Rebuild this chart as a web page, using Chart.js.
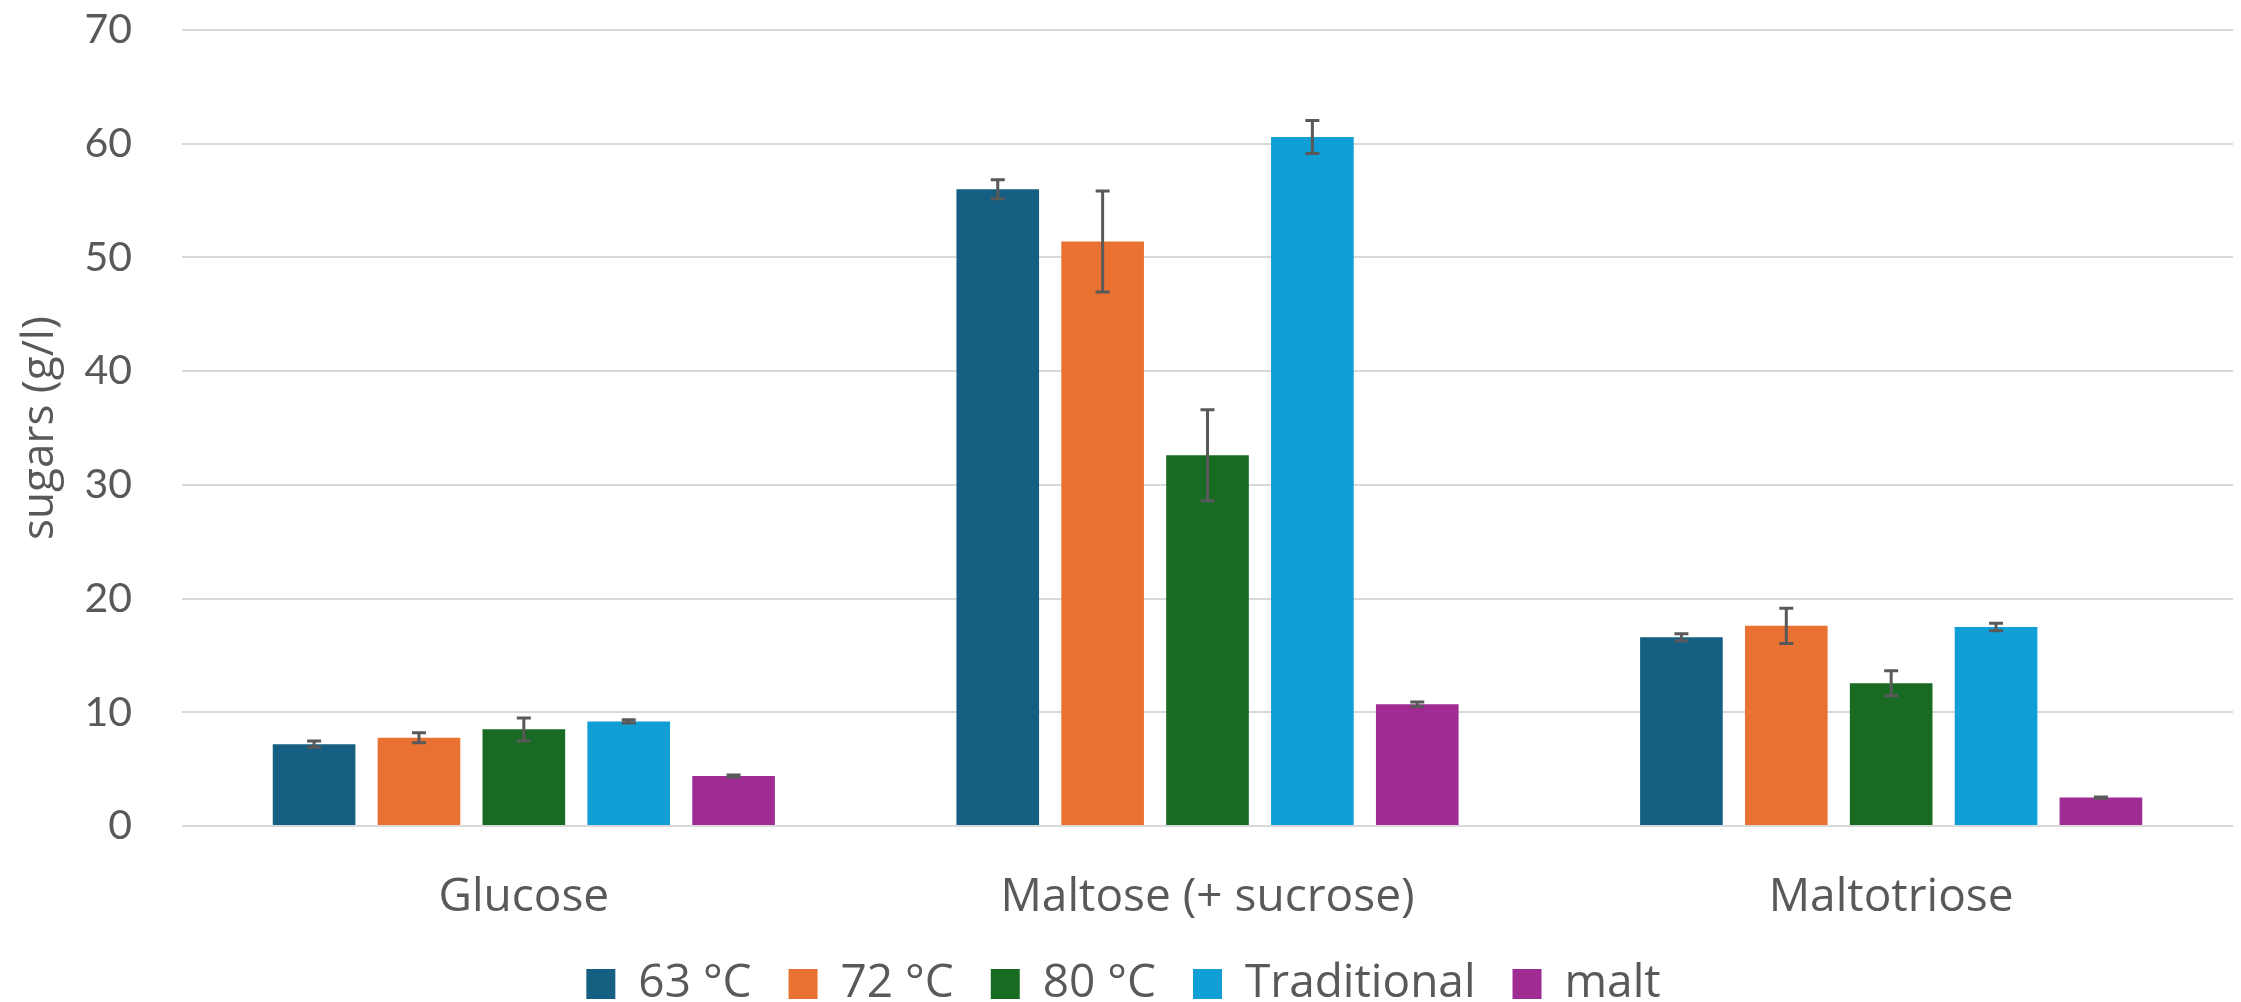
<!DOCTYPE html>
<html>
<head>
<meta charset="utf-8">
<script src="https://cdn.jsdelivr.net/npm/chart.js@4.4.0/dist/chart.umd.min.js"></script>
<style>
  html, body { margin: 0; padding: 0; background: #fff; }
  #wrap { width: 2241px; height: 1002px; }
</style>
</head>
<body>
<div id="wrap"><canvas id="chart"></canvas></div>
<script>
const categories = ["Glucose", "Maltose (+ sucrose)", "Maltotriose"];
const seriesNames = ["63 °C", "72 °C", "80 °C", "Traditional", "malt"];
const seriesColors = ["#156082", "#E97132", "#196B24", "#0F9ED5", "#A02B93"];

const values63 = [7.2, 56.0, 16.6];
const values72 = [7.75, 51.4, 17.6];
const values80 = [8.5, 32.6, 12.55];
const valuesTrad = [9.2, 60.6, 17.5];
const valuesMalt = [4.4, 10.7, 2.5];

const errors63 = [0.27, 0.83, 0.3];
const errors72 = [0.44, 4.45, 1.55];
const errors80 = [1.0, 4.0, 1.1];
const errorsTrad = [0.15, 1.45, 0.34];
const errorsMalt = [0.08, 0.2, 0.05];

const yTicks = [0, 10, 20, 30, 40, 50, 60, 70];

const allValues = [values63, values72, values80, valuesTrad, valuesMalt];
const allErrors = [errors63, errors72, errors80, errorsTrad, errorsMalt];

const TEXT = "#595959";

const errorBars = {
  id: "errorBars",
  afterDatasetsDraw(chart) {
    const ctx = chart.ctx;
    const y = chart.scales.y;
    ctx.save();
    ctx.strokeStyle = "#595959";
    ctx.lineWidth = 3;
    chart.data.datasets.forEach((ds, di) => {
      const meta = chart.getDatasetMeta(di);
      meta.data.forEach((bar, i) => {
        const v = ds.data[i];
        const e = ds.errors[i];
        const top = y.getPixelForValue(v + e);
        const bot = y.getPixelForValue(v - e);
        ctx.beginPath();
        ctx.moveTo(bar.x, top);
        ctx.lineTo(bar.x, bot);
        ctx.moveTo(bar.x - 7, top);
        ctx.lineTo(bar.x + 7, top);
        ctx.moveTo(bar.x - 7, bot);
        ctx.lineTo(bar.x + 7, bot);
        ctx.stroke();
      });
    });
    ctx.restore();
  },
};

new Chart(document.getElementById("chart"), {
  type: "bar",
  data: {
    labels: categories,
    datasets: seriesNames.map((name, i) => ({
      label: name,
      data: allValues[i],
      errors: allErrors[i],
      backgroundColor: seriesColors[i],
      borderWidth: 0,
      categoryPercentage: 0.767,
      barPercentage: 0.788,
    })),
  },
  options: {
    animation: false,
    responsive: true,
    maintainAspectRatio: false,
    layout: { padding: { left: 14, right: 8, top: 30, bottom: -15 } },
    scales: {
      x: {
        grid: { display: false },
        border: { display: false },
        ticks: {
          color: TEXT,
          padding: 36,
          font: { family: "Open Sans", size: 46 },
        },
        afterFit(scale) { scale.height = 98; },
      },
      y: {
        min: 0,
        max: 70,
        afterBuildTicks(scale) { scale.ticks = yTicks.map((v) => ({ value: v })); },
        grid: { color: "#D9D9D9", lineWidth: 2, drawTicks: false },
        border: { display: false },
        ticks: {
          color: TEXT,
          padding: 50,
          font: { family: "Lato", size: 41 },
        },
        title: {
          display: true,
          text: "sugars (g/l)",
          color: TEXT,
          padding: 0,
          font: { family: "Open Sans", size: 44 },
        },
        afterFit(scale) {
          scale.width = 168;
          scale.paddingTop = 0;
          scale.paddingBottom = 0;
        },
      },
    },
    plugins: {
      legend: {
        position: "bottom",
        labels: {
          color: TEXT,
          boxWidth: 29,
          boxHeight: 30,
          padding: 37,
          font: { family: "Open Sans", size: 46 },
        },
      },
      tooltip: { enabled: false },
    },
  },
  plugins: [errorBars],
});
</script>
</body>
</html>
